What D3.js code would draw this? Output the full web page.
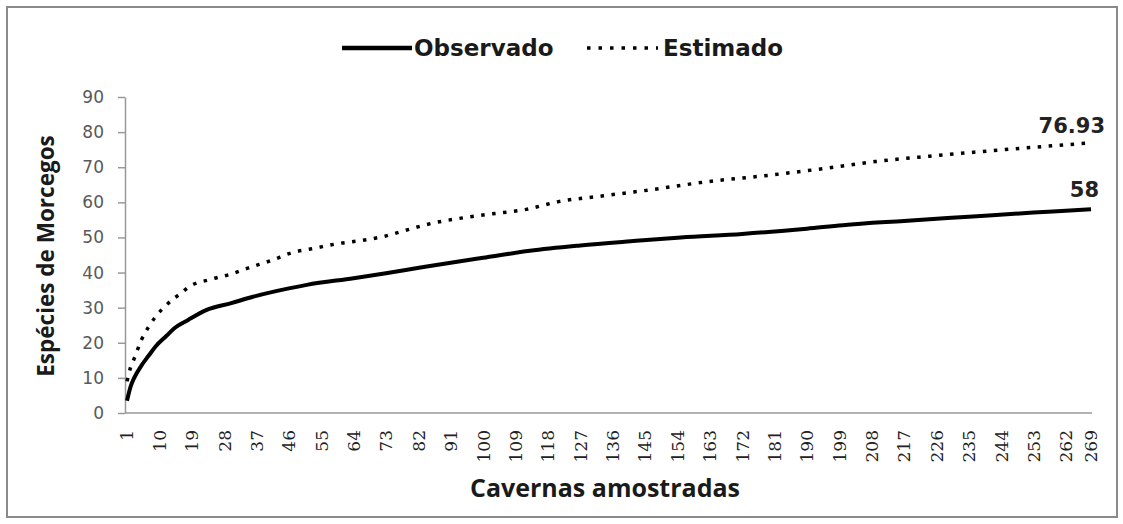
<!DOCTYPE html>
<html>
<head>
<meta charset="utf-8">
<script src="https://cdn.jsdelivr.net/npm/d3@7"></script>
<style>
  body { margin: 0; background: #fff; }
  svg { display: block; }
</style>
</head>
<body>
<svg id="chart" width="1123" height="524"></svg>
<script>
const obsX = [1, 2, 3, 5, 7, 9, 12, 14, 18, 23, 30, 36, 46, 51, 64, 73, 83, 91, 100, 113, 127, 141, 155, 172, 190, 200, 217, 235, 253, 262, 269];
const obsY = [3.5, 7.5, 10, 13.5, 16.3, 19, 22, 24, 26.5, 29.3, 31.3, 33.1, 35.5, 36.5, 38.4, 39.8, 41.5, 42.8, 44.2, 46.2, 47.7, 48.9, 50, 51, 52.5, 53.5, 54.7, 55.9, 57.1, 57.6, 58];

// estimated richness
const estX = [1, 2, 3, 5, 7, 9, 11, 14, 16, 18, 24, 30, 35, 41, 47, 53, 60, 66, 72, 78, 84, 100, 112, 121, 133, 146, 165, 174, 193, 209, 228, 246, 269];
const estY = [9, 13, 15.5, 20.8, 24.5, 27.5, 29.8, 32.6, 34.1, 35.8, 38, 39.6, 41.4, 43.4, 45.7, 46.9, 48.3, 49.1, 50.2, 51.9, 53.6, 56.4, 58, 60.2, 61.8, 63.5, 66.2, 67.1, 69.4, 71.6, 73.5, 75.1, 76.93];

const xTicks = [1, 10, 19, 28, 37, 46, 55, 64, 73, 82, 91, 100, 109, 118, 127, 136, 145, 154, 163, 172, 181, 190, 199, 208, 217, 226, 235, 244, 253, 262, 269];
const yTicks = [0, 10, 20, 30, 40, 50, 60, 70, 80, 90];

const svg = d3.select("#chart");

// outer frame
svg.append("rect")
  .attr("x", 7).attr("y", 7)
  .attr("width", 1110).attr("height", 510)
  .attr("fill", "none")
  .attr("stroke", "#8a8a8a")
  .attr("stroke-width", 2);

const x = d3.scaleLinear().domain([1, 269]).range([127, 1091]);
const y = d3.scaleLinear().domain([0, 90]).range([413, 97]);

// y axis
const yAxis = svg.append("g")
  .attr("transform", "translate(125,0)")
  .call(d3.axisLeft(y).tickValues(yTicks).tickSize(7).tickPadding(14).tickSizeOuter(0));
yAxis.select(".domain").attr("stroke", "#999").attr("stroke-width", 1.5);
yAxis.selectAll(".tick line").attr("stroke", "#999").attr("stroke-width", 1.5);
yAxis.selectAll("text")
  .style("font-family", "DejaVu Sans")
  .style("font-size", "17px")
  .attr("fill", "#595959");

// x axis
const xAxis = svg.append("g")
  .attr("transform", "translate(0,413)")
  .call(d3.axisBottom(x).tickValues(xTicks).tickSize(0).tickSizeOuter(0));
xAxis.select(".domain").attr("stroke", "#999").attr("stroke-width", 1.5)
  .attr("d", "M125,0H1092");
xAxis.selectAll("text")
  .attr("transform", "rotate(-90)")
  .attr("x", -17).attr("y", 0).attr("dy", "0.35em")
  .style("text-anchor", "end")
  .style("font-family", "DejaVu Serif")
  .style("font-size", "17px")
  .attr("fill", "#222");

// lines
const line = d3.line()
  .x((d) => x(d[0]))
  .y((d) => y(d[1]))
  .curve(d3.curveMonotoneX);

svg.append("path")
  .datum(estX.map((v, i) => [v, estY[i]]))
  .attr("d", line)
  .attr("fill", "none")
  .attr("stroke", "#000")
  .attr("stroke-width", 3.5)
  .attr("stroke-dasharray", "3.5 7.5");

svg.append("path")
  .datum(obsX.map((v, i) => [v, obsY[i]]))
  .attr("d", line)
  .attr("fill", "none")
  .attr("stroke", "#000")
  .attr("stroke-width", 4);

// end labels
svg.append("text")
  .attr("x", x(269) + 14).attr("y", y(estY[estY.length - 1]) - 10)
  .attr("text-anchor", "end")
  .style("font-family", "DejaVu Sans").style("font-weight", "bold").style("font-size", "21px")
  .attr("fill", "#222")
  .text("76.93");

svg.append("text")
  .attr("x", x(269) + 8).attr("y", y(obsY[obsY.length - 1]) - 12)
  .attr("text-anchor", "end")
  .style("font-family", "DejaVu Sans").style("font-weight", "bold").style("font-size", "21px")
  .attr("fill", "#222")
  .text("58");

// legend
const legend = svg.append("g").attr("transform", "translate(0,48)");
legend.append("line")
  .attr("x1", 342).attr("x2", 412).attr("y1", 0).attr("y2", 0)
  .attr("stroke", "#000").attr("stroke-width", 4.5);
legend.append("text")
  .attr("x", 414).attr("y", 8)
  .style("font-family", "DejaVu Sans").style("font-weight", "bold").style("font-size", "23px")
  .attr("fill", "#1a1a1a")
  .text("Observado");
legend.append("line")
  .attr("x1", 587).attr("x2", 658).attr("y1", 0).attr("y2", 0)
  .attr("stroke", "#000").attr("stroke-width", 3.5)
  .attr("stroke-dasharray", "3.5 8");
legend.append("text")
  .attr("x", 663).attr("y", 8)
  .style("font-family", "DejaVu Sans").style("font-weight", "bold").style("font-size", "23px")
  .attr("fill", "#1a1a1a")
  .text("Estimado");

// axis titles
svg.append("text")
  .attr("x", 605).attr("y", 497)
  .attr("text-anchor", "middle")
  .style("font-family", "Open Sans").style("font-weight", "bold").style("font-size", "25px")
  .attr("fill", "#1a1a1a")
  .text("Cavernas amostradas");

svg.append("text")
  .attr("transform", "translate(54,256) rotate(-90)")
  .attr("text-anchor", "middle")
  .style("font-family", "Open Sans").style("font-weight", "bold").style("font-size", "22.5px")
  .attr("fill", "#1a1a1a")
  .text("Espécies de Morcegos");
</script>
</body>
</html>
